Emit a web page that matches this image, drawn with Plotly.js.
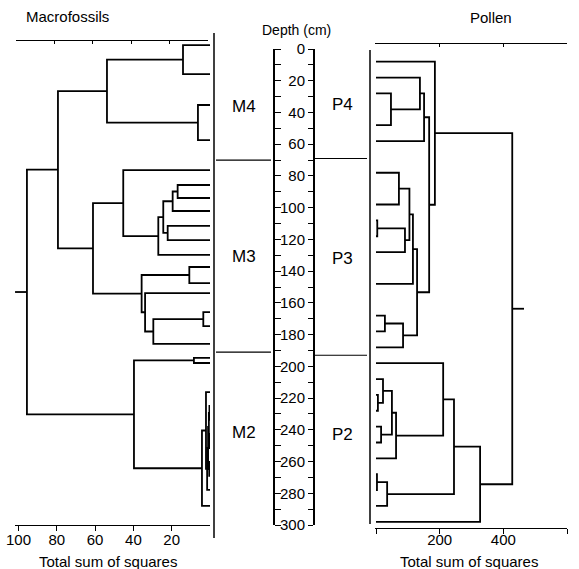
<!DOCTYPE html>
<html>
<head>
<meta charset="utf-8">
<script src="https://cdn.plot.ly/plotly-3.0.1.min.js"></script>
<style>html,body{margin:0;padding:0;background:#fff;}#chart{width:579px;height:569px;}</style>
</head>
<body>
<div id="chart"></div>
<script>
// ---------------- DATA ----------------
// Macrofossil samples: depth (cm) of each leaf, top to bottom
const macroLeafDepth = [-2.5, 15.8, 35.3, 57.4, 76.3, 85.7, 93.9, 102.1, 111.5, 120.4, 129.8, 137.4,
  147.5, 153.8, 165.8, 174.6, 185.9, 194.7, 197.9, 216.2, 225.0, 233.8, 242.6, 251.5, 260.3, 269.1, 277.9, 288.0];
// Merges (hclust style): negative = leaf (1-based), positive = earlier merge (1-based); third = total sum of squares
const macroMerges = [
  [-1, -2, 14.1], [-3, -4, 6.3], [1, 2, 53.8],
  [-6, -7, 16.9], [4, -8, 19.5], [-9, -10, 22.1], [5, 6, 24.4], [7, -11, 27.0], [-5, 8, 45.3],
  [-12, -13, 10.8], [-15, -16, 3.5], [11, -17, 29.6], [-14, 12, 33.9], [10, 13, 35.7], [9, 14, 61.1],
  [3, 15, 79.4],
  [-18, -19, 8.4], [-21, -22, 0.3], [-23, -24, 0.3], [18, 19, 0.6], [-25, -26, 0.4], [20, 21, 1.0],
  [22, -27, 1.5], [-20, 23, 2.1], [24, -28, 4.2], [17, 25, 39.7],
  [16, 26, 95.6]
];
// Pollen samples
const pollenLeafDepth = [8, 18, 28, 48, 58, 78, 98, 108, 118, 128, 148, 168, 178, 188,
  198, 208, 218, 228, 238, 248, 258, 268, 278, 288, 298];
const pollenMerges = [
  [-3, -4, 47], [-2, 1, 138], [2, -5, 151],
  [-6, -7, 72], [-8, -9, 4], [5, -10, 91], [4, 6, 105], [7, -11, 116],
  [-12, -13, 28], [9, -14, 85], [8, 10, 129], [3, 11, 167], [-1, 12, 185],
  [-17, -18, 6], [-16, 14, 22], [-19, -20, 16], [15, 16, 50], [17, -21, 63], [-15, 18, 211],
  [-22, -23, 3], [20, -24, 35], [19, 21, 245], [22, -25, 327],
  [13, 23, 428]
];
// Zones
const macroZoneBounds = [70, 191];
const pollenZoneBounds = [69, 193];
const macroZones = [{name: 'M4', depth: 36}, {name: 'M3', depth: 131}, {name: 'M2', depth: 242}];
const pollenZones = [{name: 'P4', depth: 35}, {name: 'P3', depth: 132}, {name: 'P2', depth: 243}];
const macroTicks = [100, 80, 60, 40, 20];
const pollenTicks = [0, 200, 400, 600];
const pollenTickText = ['', '200', '400', '600'];
const depthRange = [0, 300];

// ---------------- LAYOUT HELPERS ----------------
const W = 579, H = 569;
const px = v => v / W;
const py = v => 1 - v / H;
const D_TOP = 49, D_BOT = 525;            // pixel rows of depth 0 and 300
const kD = (D_BOT - D_TOP) / (depthRange[1] - depthRange[0]);
const mainYRange = [(H - D_TOP) / kD, -D_TOP / kD];
// macro x scale
const M0 = 210, kM = 1.915;
const macroDom = [15, 210];
const macroRange = [(M0 - macroDom[0]) / kM, (M0 - macroDom[1]) / kM];
// pollen x scale
const P0 = 376, kP = 191 / 600;
const pollenDom = [375, 567];
const pollenRange = [(pollenDom[0] - P0) / kP, (pollenDom[1] - P0) / kP];

function dendro(leafDepth, merges, stub) {
  const pos = [], ht = [], xs = [], ys = [];
  const gy = c => c < 0 ? leafDepth[-c - 1] : pos[c - 1];
  const gh = c => c < 0 ? 0 : ht[c - 1];
  merges.forEach(([a, b, h]) => {
    const ya = gy(a), yb = gy(b);
    xs.push(gh(a), h, h, gh(b), null);
    ys.push(ya, ya, yb, yb, null);
    pos.push((ya + yb) / 2); ht.push(h);
  });
  const rh = ht[ht.length - 1], ry = pos[pos.length - 1];
  xs.push(rh, rh + stub, null); ys.push(ry, ry, null);
  return {xs, ys};
}

const FONT = {family: 'Liberation Sans, Arial, sans-serif', size: 15, color: '#000'};
const lineStyle = {color: '#000', width: 1.8};

const md = dendro(macroLeafDepth, macroMerges, 6.2);
const pd = dendro(pollenLeafDepth, pollenMerges, 37);

const traces = [
  {type: 'scatter', mode: 'lines', x: md.xs, y: md.ys, xaxis: 'x', yaxis: 'y', line: lineStyle, hoverinfo: 'skip', showlegend: false},
  {type: 'scatter', mode: 'lines', x: pd.xs, y: pd.ys, xaxis: 'x2', yaxis: 'y', line: lineStyle, hoverinfo: 'skip', showlegend: false},
  {type: 'scatter', x: [null], y: [null], xaxis: 'x3', yaxis: 'y', hoverinfo: 'skip', showlegend: false},
  {type: 'scatter', x: [null], y: [null], xaxis: 'x4', yaxis: 'y', hoverinfo: 'skip', showlegend: false},
  {type: 'scatter', x: [null], y: [null], xaxis: 'x', yaxis: 'y2', hoverinfo: 'skip', showlegend: false},
  {type: 'scatter', x: [null], y: [null], xaxis: 'x', yaxis: 'y3', hoverinfo: 'skip', showlegend: false}
];

const axBase = {showgrid: false, zeroline: false, fixedrange: true, linecolor: '#000', tickcolor: '#000',
  tickfont: FONT, automargin: false, autorange: false};

const shapes = [
  {type: 'line', xref: 'paper', yref: 'paper', x0: px(214), x1: px(214), y0: py(33), y1: py(538), line: {color: '#000', width: 1.5}},
  {type: 'line', xref: 'paper', yref: 'paper', x0: px(370), x1: px(370), y0: py(50), y1: py(524), line: {color: '#000', width: 1.5}}
];
macroZoneBounds.forEach(d => shapes.push({type: 'line', xref: 'paper', yref: 'y', x0: px(216), x1: px(271), y0: d, y1: d, line: {color: '#000', width: 1.2}}));
pollenZoneBounds.forEach(d => shapes.push({type: 'line', xref: 'paper', yref: 'y', x0: px(315), x1: px(367), y0: d, y1: d, line: {color: '#000', width: 1.2}}));

const ann = (text, x, y, yref, size) => ({text, x, y, xref: 'paper', yref: yref || 'paper',
  xanchor: 'center', yanchor: 'middle', showarrow: false,
  font: Object.assign({}, FONT, size ? {size} : {})});
const annotations = [
  ann('Macrofossils', px(67), py(16)),
  ann('Pollen', px(491), py(18)),
  ann('Depth (cm)', px(296), py(30), 'paper', 14),
  ann('Total sum of squares', px(108), py(561)),
  ann('Total sum of squares', px(469), py(561))
];
macroZones.forEach(z => annotations.push(ann(z.name, px(244), z.depth, 'y', 17)));
pollenZones.forEach(z => annotations.push(ann(z.name, px(342), z.depth, 'y', 17)));

const layout = {
  width: W, height: H,
  margin: {l: 0, r: 0, t: 0, b: 0, pad: 0},
  paper_bgcolor: '#fff', plot_bgcolor: 'rgba(0,0,0,0)',
  showlegend: false,
  font: FONT,
  yaxis: Object.assign({}, axBase, {domain: [0, 1], range: mainYRange, visible: false}),
  xaxis: Object.assign({}, axBase, {
    domain: [px(macroDom[0]), px(macroDom[1])], range: macroRange,
    anchor: 'free', position: py(525), side: 'bottom',
    showline: true, linewidth: 1, ticks: 'outside', ticklen: 5,
    tickmode: 'array', tickvals: macroTicks, ticktext: macroTicks.map(String),
    ticklabelstandoff: -4
  }),
  xaxis2: Object.assign({}, axBase, {
    domain: [px(pollenDom[0]), px(pollenDom[1])], range: pollenRange,
    anchor: 'free', position: py(528), side: 'bottom',
    showline: true, linewidth: 1, ticks: 'outside', ticklen: 5,
    tickmode: 'array', tickvals: pollenTicks, ticktext: pollenTickText,
    ticklabelstandoff: -7
  }),
  xaxis3: Object.assign({}, axBase, {
    domain: [px(16), px(208)], range: [100, 0],
    anchor: 'free', position: py(40), side: 'top',
    showline: true, linewidth: 1, ticks: 'inside', ticklen: 3,
    tickmode: 'array', tickvals: [100, 80, 60, 40, 20, 0], showticklabels: false
  }),
  xaxis4: Object.assign({}, axBase, {
    domain: [px(375), px(567)], range: [0, 600],
    anchor: 'free', position: py(43), side: 'top',
    showline: true, linewidth: 1, ticks: 'inside', ticklen: 3,
    tickmode: 'array', tickvals: pollenTicks, showticklabels: false
  }),
  yaxis2: Object.assign({}, axBase, {
    domain: [py(D_BOT), py(D_TOP)], range: [depthRange[1], depthRange[0]],
    anchor: 'free', position: px(273), side: 'right',
    showline: true, linewidth: 1.5, ticks: 'outside', ticklen: 6, tickwidth: 1,
    dtick: 10, tick0: 0, showticklabels: false
  }),
  yaxis3: Object.assign({}, axBase, {
    domain: [py(D_BOT), py(D_TOP)], range: [depthRange[1], depthRange[0]],
    anchor: 'free', position: px(313), side: 'left',
    showline: true, linewidth: 1.5, ticks: 'outside', ticklen: 5, tickwidth: 1,
    dtick: 20, tick0: 0, showticklabels: true,
    minor: {dtick: 10, tick0: 0, ticks: 'outside', ticklen: 5, tickcolor: '#000', tickwidth: 1, showgrid: false}
  }),
  shapes: shapes,
  annotations: annotations
};

Plotly.newPlot('chart', traces, layout, {staticPlot: true, displayModeBar: false});
</script>
</body>
</html>
